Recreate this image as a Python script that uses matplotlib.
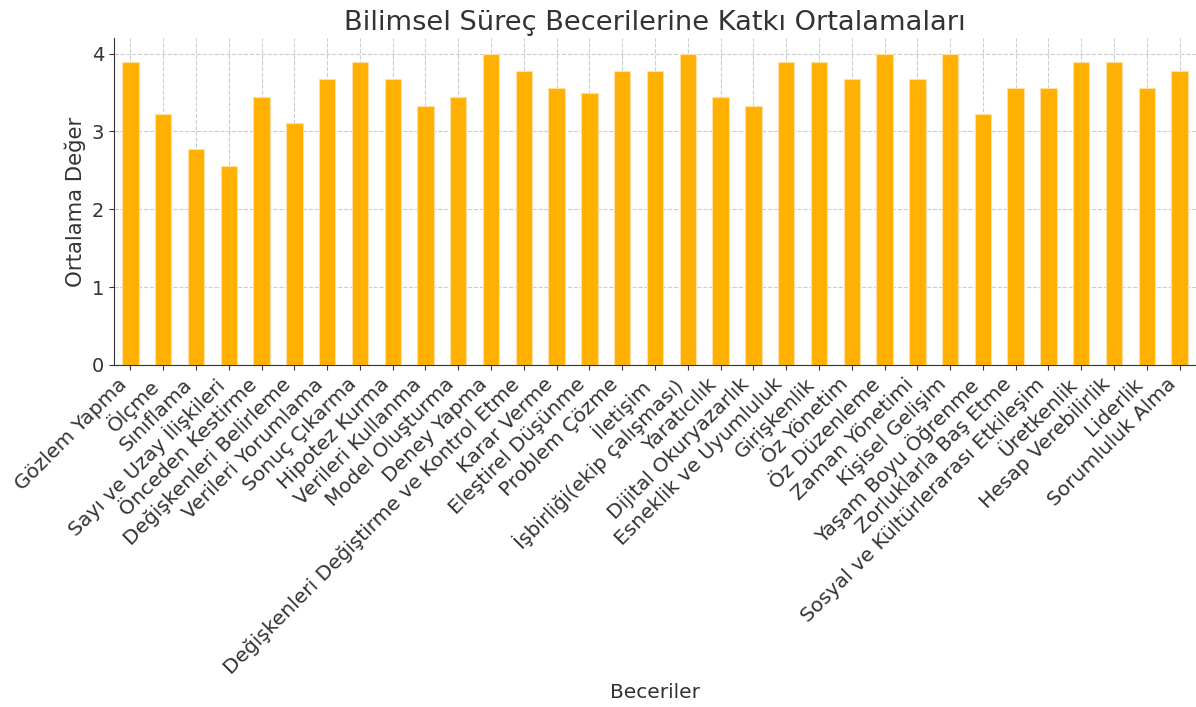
import matplotlib
matplotlib.use("Agg")
import matplotlib.pyplot as plt
import numpy as np

categories = [
    "Gözlem Yapma", "Ölçme", "Sınıflama", "Sayı ve Uzay İlişkileri",
    "Önceden Kestirme", "Değişkenleri Belirleme", "Verileri Yorumlama",
    "Sonuç Çıkarma", "Hipotez Kurma", "Verileri Kullanma", "Model Oluşturma",
    "Deney Yapma", "Değişkenleri Değiştirme ve Kontrol Etme", "Karar Verme",
    "Eleştirel Düşünme", "Problem Çözme", "İletişim",
    "İşbirliği(ekip çalışması)", "Yaratıcılık", "Dijital Okuryazarlık",
    "Esneklik ve Uyumluluk", "Girişkenlik", "Öz Yönetim", "Öz Düzenleme",
    "Zaman Yönetimi", "Kişisel Gelişim", "Yaşam Boyu Öğrenme",
    "Zorluklarla Baş Etme", "Sosyal ve Kültürlerarası Etkileşim",
    "Üretkenlik", "Hesap Verebilirlik", "Liderlik", "Sorumluluk Alma",
]
values = [
    3.89, 3.22, 2.78, 2.56, 3.44, 3.11, 3.67, 3.89, 3.67, 3.33, 3.44,
    4.00, 3.78, 3.56, 3.50, 3.78, 3.78, 4.00, 3.44, 3.33, 3.89, 3.89,
    3.67, 4.00, 3.67, 4.00, 3.22, 3.56, 3.56, 3.89, 3.89, 3.56, 3.78,
]
yticks = [0, 1, 2, 3, 4]

text_color = "#333333"
fig = plt.figure(figsize=(11.96, 7.07), dpi=100)
ax = fig.add_axes([114 / 1196, 1 - 365 / 707, (1196 - 114) / 1196, (365 - 38) / 707])

x = np.arange(len(categories))
ax.bar(x, values, width=0.5, color="#FFB000", edgecolor="#FFE0A0", linewidth=0.8, zorder=2)
ax.set_xlim(-0.5, len(categories) - 0.5)
ax.set_ylim(0, 4.2)
ax.set_yticks(yticks)
ax.set_xticks(x)
ax.set_xticklabels(categories, rotation=45, ha="right", fontsize=14.5, color=text_color)
ax.tick_params(axis="y", labelsize=14, labelcolor=text_color, color=text_color)
ax.tick_params(axis="x", color=text_color)
ax.grid(True, linestyle="--", color="#cccccc", linewidth=0.8, zorder=0)
ax.set_axisbelow(True)
for s in ["top", "right"]:
    ax.spines[s].set_visible(False)
for s in ["left", "bottom"]:
    ax.spines[s].set_color(text_color)

ax.set_title("Bilimsel Süreç Becerilerine Katkı Ortalamaları", fontsize=19.6, color=text_color, pad=6)
ax.set_ylabel("Ortalama Değer", fontsize=15.3, color=text_color)
fig.text((114 + 1196) / 2 / 1196, 1 - 693 / 707, "Beceriler", ha="center", va="center",
         fontsize=14.5, color=text_color)

fig.savefig("out.png", dpi=100)
